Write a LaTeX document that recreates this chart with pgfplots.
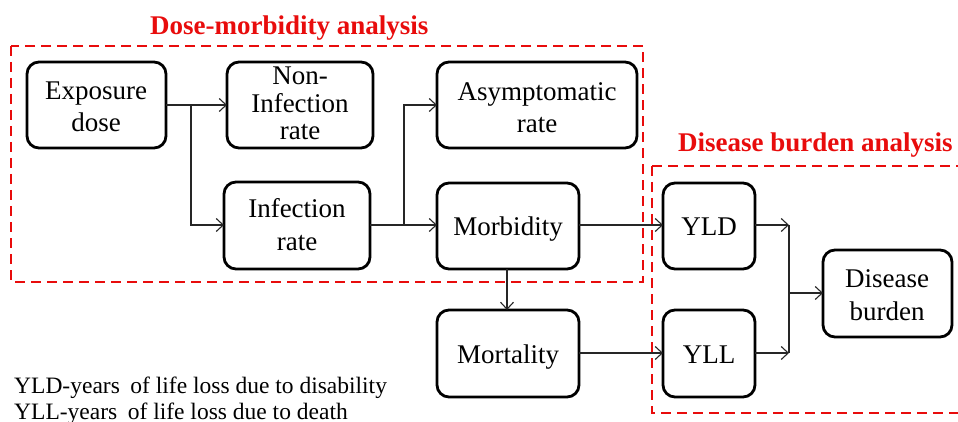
\documentclass[border=0pt]{standalone}
\usepackage{pgfplots}
\pgfplotsset{compat=1.18}
\usetikzlibrary{arrows.meta}
\usepackage{fontspec}
\setmainfont{Liberation Serif}
\definecolor{dred}{RGB}{232,12,12}
\begin{document}
\begin{tikzpicture}
\begin{axis}[name=ax, scale only axis, width=958pt, height=422pt,
  xmin=0, xmax=958, ymin=0, ymax=422, y dir=reverse, hide axis, clip=false]
% rounded boxes: x1 y1 x2 y2 (pixel coordinates)
\pgfplotsinvokeforeach{{27/62/166/148},{227/62/373/148},{224/182/370/269},{437/62/637/148},{437/183/579/269},{437/310/579/397},{663/183/755/269},{663/310/755/397},{823/250/952/337}}{
  \foreach \a/\b/\c/\d in {#1}{
    \edef\tmp{\noexpand\draw[line width=2.8pt, rounded corners=12pt] (axis cs:\a,\b) rectangle (axis cs:\c,\d);}\tmp
  }
}
% dashed red frames
\draw[dred, line width=2.4pt, dash pattern=on 10pt off 6pt] (axis cs:11,46) rectangle (axis cs:643,282);
\draw[dred, line width=2.4pt, dash pattern=on 10pt off 6pt] (axis cs:652,166) -- (axis cs:958,166);
\draw[dred, line width=2.4pt, dash pattern=on 10pt off 6pt] (axis cs:652,166) -- (axis cs:652,413) -- (axis cs:958,413);
% connectors
\pgfplotsset{conn/.style={black!85, line width=1.1pt, no marks, -{Straight Barb[length=7pt,width=13pt,line width=1.1pt]}}}
\addplot[conn] coordinates {(166,105) (227,105)};
\addplot[conn] coordinates {(191,105) (191,225) (224,225)};
\addplot[conn] coordinates {(370,225) (437,225)};
\addplot[conn] coordinates {(404,225) (404,105) (437,105)};
\addplot[conn] coordinates {(579,225) (663,225)};
\addplot[conn] coordinates {(507,269) (507,310)};
\addplot[conn] coordinates {(579,353) (663,353)};
\addplot[conn] coordinates {(755,225) (789,225)};
\addplot[conn] coordinates {(755,353) (789,353)};
\addplot[black!85, line width=1.1pt, no marks] coordinates {(789,225) (789,353)};
\addplot[conn] coordinates {(789,293) (823,293)};
% box texts
\tikzset{bt/.style={anchor=base, inner sep=0pt, font=\fontsize{27}{28}\selectfont}}
\node[bt] at (axis cs:96,100) {Exposure};
\node[bt] at (axis cs:96,132) {dose};
\node[bt] at (axis cs:300,85) {Non-};
\node[bt] at (axis cs:300,113) {Infection};
\node[bt] at (axis cs:300,140) {rate};
\node[bt] at (axis cs:297,218) {Infection};
\node[bt] at (axis cs:297,251) {rate};
\node[bt] at (axis cs:537,101) {Asymptomatic};
\node[bt] at (axis cs:537,133) {rate};
\node[bt] at (axis cs:508,235) {Morbidity};
\node[bt] at (axis cs:508,363) {Mortality};
\node[bt] at (axis cs:709,235) {YLD};
\node[bt] at (axis cs:709,363) {YLL};
\node[bt] at (axis cs:887,287) {Disease};
\node[bt] at (axis cs:887,320) {burden};
% titles
\node[anchor=base west, inner sep=0pt, text=dred, font=\fontsize{27}{28}\selectfont\bfseries] at (axis cs:150,35) {Dose-morbidity analysis};
\node[anchor=base west, inner sep=0pt, text=dred, font=\fontsize{27}{28}\selectfont\bfseries] at (axis cs:678,152) {Disease burden analysis};
% legend text
\node[anchor=base west, inner sep=0pt, font=\fontsize{23.5}{24}\selectfont] at (axis cs:14,393) {YLD-years\hspace{0.45em}of life loss due to disability};
\node[anchor=base west, inner sep=0pt, font=\fontsize{23.5}{24}\selectfont] at (axis cs:14,419) {YLL-years\hspace{0.45em}of life loss due to death};
\end{axis}
\pgfresetboundingbox
\path[use as bounding box] (ax.south west) rectangle (ax.north east);
\end{tikzpicture}
\end{document}
